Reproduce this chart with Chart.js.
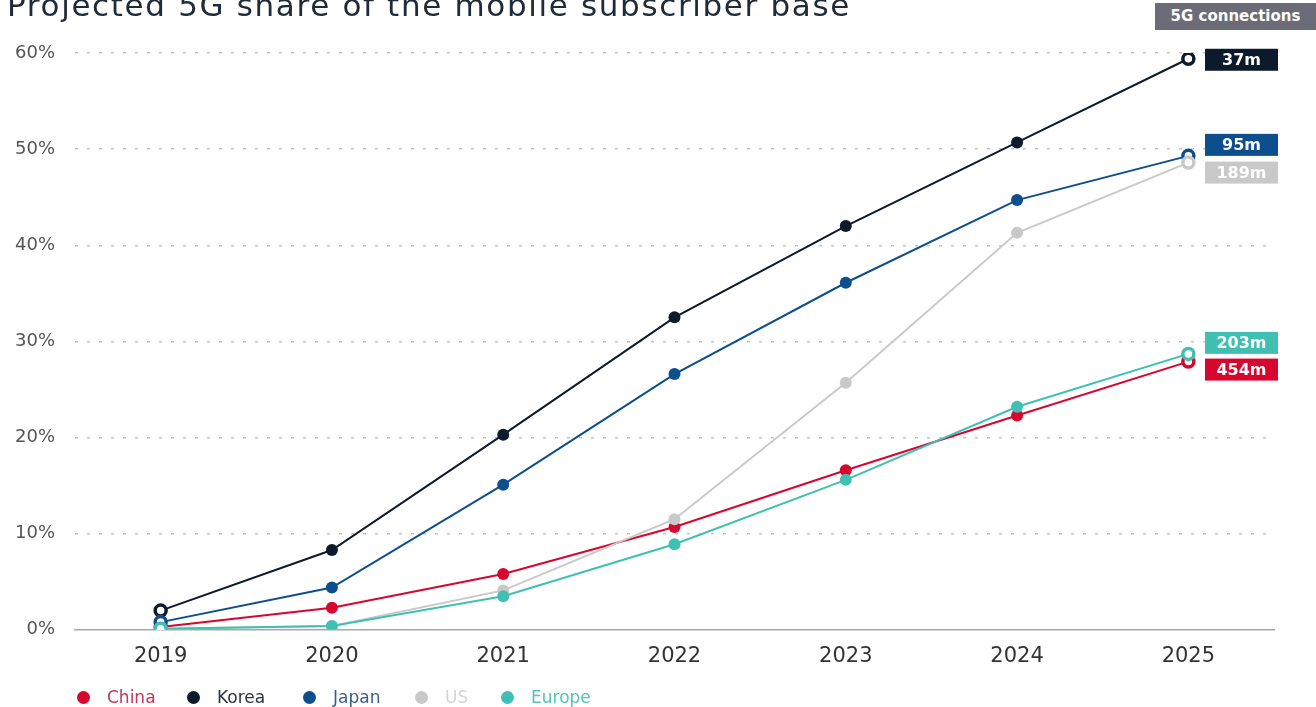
<!DOCTYPE html>
<html>
<head>
<meta charset="utf-8">
<script src="https://cdn.jsdelivr.net/npm/chart.js@4/dist/chart.umd.min.js"></script>
<style>
  html, body { margin: 0; padding: 0; background: #fff; overflow: hidden; }
  #wrap { position: relative; width: 1316px; height: 707px; }
  #title { position: absolute; left: 7px; top: -13px; font: 31px "DejaVu Sans", sans-serif; letter-spacing: 1.65px; color: #1f2b36; white-space: nowrap; }
  #badge { position: absolute; left: 1155px; top: 3px; width: 161px; height: 27px; background: #6c6c78; color: #fff; font: bold 15px "DejaVu Sans", sans-serif; line-height: 27px; text-align: center; }
  #legend { position: absolute; left: 0; top: 687px; width: 700px; height: 20px; font: 17px "DejaVu Sans", sans-serif; white-space: nowrap; }
  #legend span { position: absolute; top: 0; }
  #legend i { display: inline-block; width: 13px; height: 13px; border-radius: 50%; margin-right: 17px; vertical-align: -1px; }
  canvas { position: absolute; left: 0; top: 0; }
</style>
</head>
<body>
<div id="wrap">
  <canvas id="chart" width="1316" height="707"></canvas>
  <div id="title">Projected 5G share of the mobile subscriber base</div>
  <div id="badge">5G connections</div>
  <div id="legend"></div>
</div>
<script>
const years = ["2019", "2020", "2021", "2022", "2023", "2024", "2025"];
const yTicks = [0, 10, 20, 30, 40, 50, 60];

const china  = [0.3, 2.3, 5.8, 10.7, 16.6, 22.3, 27.9];
const korea  = [2.0, 8.3, 20.3, 32.5, 42.0, 50.7, 59.4];
const japan  = [0.8, 4.4, 15.1, 26.6, 36.1, 44.7, 49.3];
const us     = [0.1, 0.4, 4.1, 11.5, 25.7, 41.3, 48.6];
const europe = [0.1, 0.4, 3.5, 8.9, 15.6, 23.2, 28.7];

const names = ["China", "Korea", "Japan", "US", "Europe"];
const connections = ["454m", "37m", "95m", "189m", "203m"];

const colors = {
    China: "#d7062f",
    Korea: "#0c1a2b",
    Japan: "#0d4e8c",
    US: "#c9c9c9",
    Europe: "#3fc0b2"
};
const legendText = {
    China: "#c2385a",
    Korea: "#2b3440",
    Japan: "#3a5f88",
    US: "#d4d4d4",
    Europe: "#55c4b8"
};
const legendLeft = { China: 77, Korea: 187, Japan: 303, US: 415, Europe: 501 };
// vertical nudge of the end label so boxes don't overlap
const labelShift = { China: 8, Korea: 1, Japan: -11, US: 10, Europe: -11 };

const seriesData = [china, korea, japan, us, europe];

function makeDataset(name, values) {
    const c = colors[name];
    const last = values.length - 1;
    const isEnd = i => i === 0 || i === last;
    return {
        label: name,
        data: values,
        borderColor: c,
        borderWidth: 2,
        tension: 0,
        pointRadius: values.map((v, i) => isEnd(i) ? 5.5 : 6),
        pointBackgroundColor: values.map((v, i) => isEnd(i) ? "#fff" : c),
        pointBorderColor: c,
        pointBorderWidth: values.map((v, i) => isEnd(i) ? 3.5 : 0),
        order: names.length - names.indexOf(name)
    };
}

// end labels: connection counts next to the 2025 point
const endLabels = {
    id: "endLabels",
    afterDatasetsDraw(chart) {
        const ctx = chart.ctx;
        const yScale = chart.scales.y;
        ctx.save();
        ctx.font = "bold 16px 'DejaVu Sans', sans-serif";
        ctx.textAlign = "center";
        ctx.textBaseline = "middle";
        chart.data.datasets.forEach((ds, i) => {
            const v = ds.data[ds.data.length - 1];
            const y = yScale.getPixelForValue(v) + labelShift[ds.label];
            const x = 1205;
            ctx.fillStyle = colors[ds.label];
            ctx.fillRect(x, y - 11, 73, 22);
            ctx.fillStyle = "#fff";
            ctx.fillText(connections[i], x + 36.5, y + 1);
        });
        ctx.restore();
    }
};

new Chart(document.getElementById("chart"), {
    type: "line",
    data: {
        labels: years,
        datasets: names.map((n, i) => makeDataset(n, seriesData[i]))
    },
    options: {
        responsive: false,
        animation: false,
        layout: {
            padding: { left: 0, right: 42, top: 53, bottom: 24 }
        },
        scales: {
            x: {
                offset: true,
                grid: { display: false, drawTicks: false },
                border: { display: true, color: "#a8a8a8", width: 1.5 },
                ticks: {
                    color: "#333",
                    padding: 14,
                    font: { family: "DejaVu Sans", size: 21 }
                }
            },
            y: {
                min: 0,
                max: 60,
                afterBuildTicks: s => { s.ticks = yTicks.map(v => ({ value: v })); },
                afterFit: s => { s.width = 75; },
                grid: {
                    color: ctx => ctx.tick.value === 0 ? "rgba(0,0,0,0)" : "#c4c4c4",
                    drawTicks: false,
                    lineWidth: 1.5
                },
                border: { display: false, dash: [3, 9] },
                ticks: {
                    color: "#555",
                    padding: 20,
                    font: { family: "DejaVu Sans", size: 18 },
                    callback: v => v + "%"
                }
            }
        },
        plugins: {
            legend: { display: false },
            tooltip: { enabled: false }
        }
    },
    plugins: [endLabels]
});

const legend = document.getElementById("legend");
names.forEach(n => {
    const s = document.createElement("span");
    s.innerHTML = '<i style="background:' + colors[n] + '"></i>' + n;
    s.style.color = legendText[n];
    s.style.left = legendLeft[n] + "px";
    legend.appendChild(s);
});
</script>
</body>
</html>
